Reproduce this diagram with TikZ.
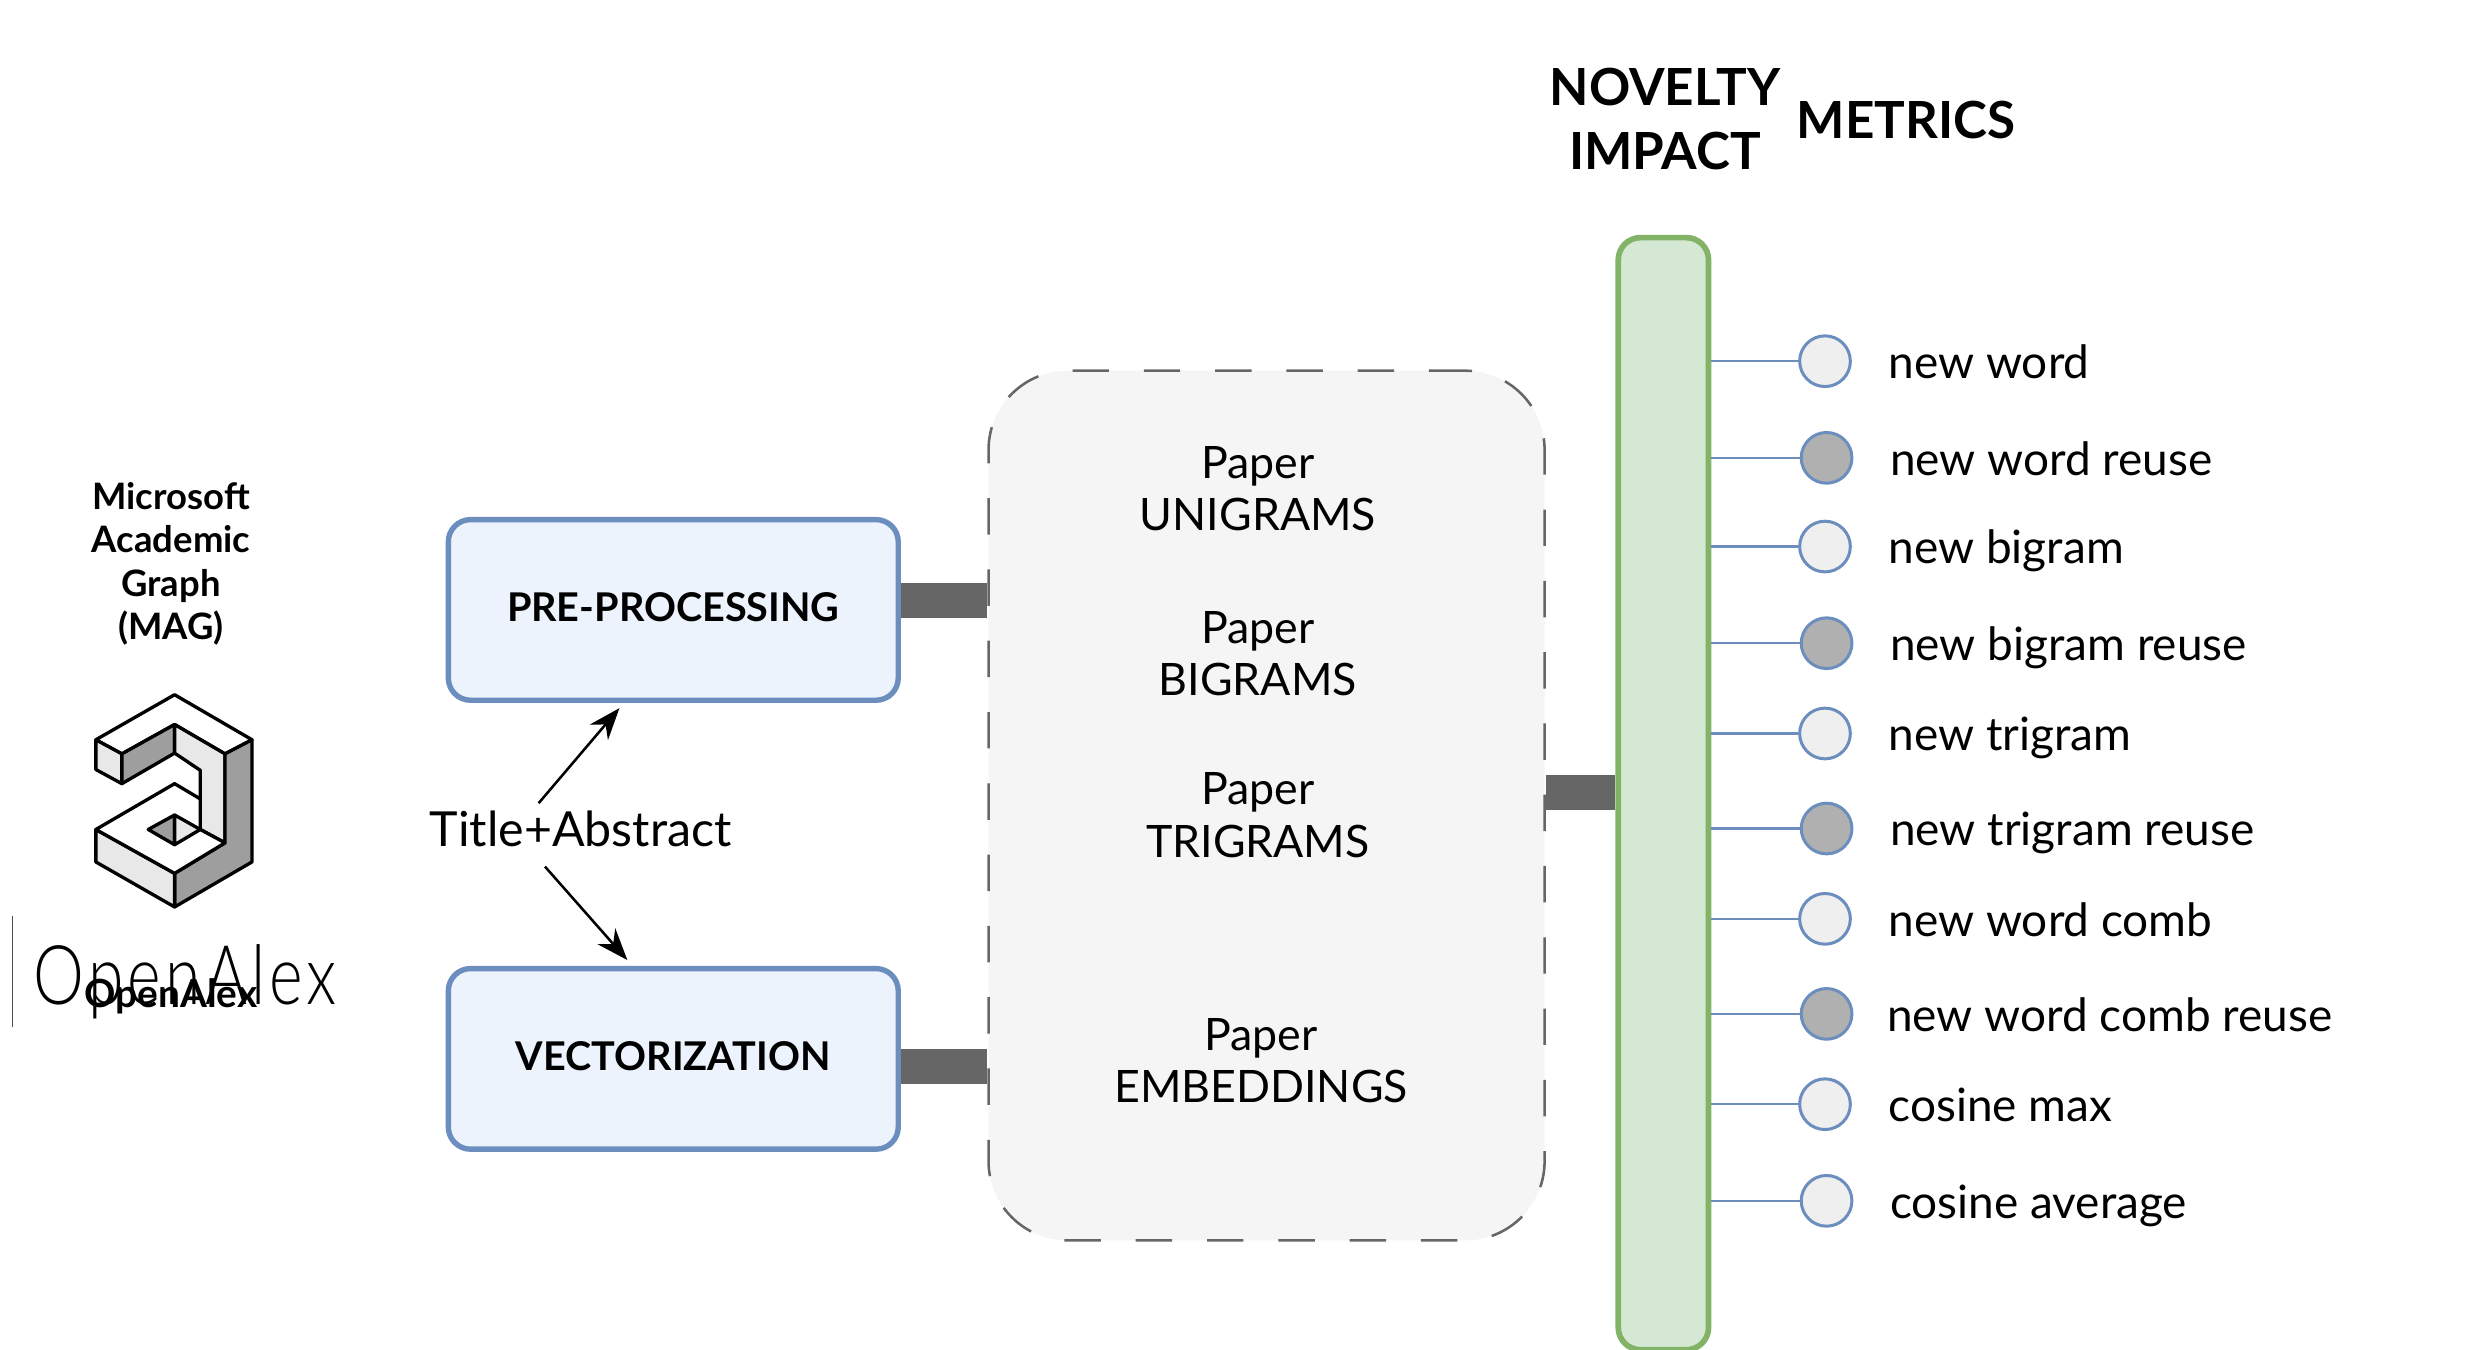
\documentclass[tikz,border=0pt]{standalone}
\usepackage{fontspec}
\setmainfont{Lato}
\newfontfamily\thinlogo[LetterSpace=6.5]{Lato Light}
\usetikzlibrary{positioning}
\usetikzlibrary{arrows.meta}

\definecolor{boxblue}{HTML}{6C8EBF}
\definecolor{boxfill}{HTML}{ECF3FD}
\definecolor{barfill}{HTML}{D5E8D4}
\definecolor{barline}{HTML}{82B366}
\definecolor{linkgray}{HTML}{666666}
\definecolor{papfill}{HTML}{F5F5F5}
\definecolor{faceL}{HTML}{E8E8E8}
\definecolor{faceD}{HTML}{9E9E9E}

\tikzset{
	stagebox/.style={draw=boxblue, fill=boxfill, line width=3.4pt, rounded corners=14pt, minimum width=284pt, minimum height=114pt, text depth=4pt, font=\fontsize{25}{30}\selectfont\bfseries},
	thicklink/.style={draw=linkgray, line width=22pt},
	papertxt/.style={align=center, font=\fontsize{28.2}{33}\selectfont},
	headtxt/.style={align=center, font=\fontsize{32.3}{40}\selectfont\bfseries},
	magtxt/.style={align=center, font=\fontsize{23}{27.5}\selectfont\bfseries},
	newdot/.style={circle, draw=boxblue, fill=faceL!70!white, line width=1.9pt, minimum size=32pt, inner sep=0pt},
	reusedot/.style={circle, draw=boxblue, fill=black!31, line width=1.9pt, minimum size=32pt, inner sep=0pt},
	metrictxt/.style={inner sep=0pt, text height=26pt, text depth=4pt, font=\fontsize{29}{33}\selectfont},
	barlink/.style={draw=boxblue, line width=1.6pt},
	feed/.style={-{Stealth[length=20pt,width=15pt]}, line width=1.6pt},
	face/.style={draw=black, line width=2.1pt, line join=round},
}

\begin{document}
\begin{tikzpicture}[x=1pt,y=-1pt]
	\useasboundingbox (0,0) rectangle (1568,852);

	% data source
	\node[magtxt] (mag) at (108,356) {Microsoft\\Academic\\Graph\\(MAG)};
	\begin{scope}[shift={(0.6,283.8)},x=0.208pt,y=-0.241pt]
		\draw[face,fill=white] (288,760) -- (527,642) -- (762,760) -- (680,797) -- (527,720) -- (367,797) -- cycle;
		\draw[face,fill=faceL] (288,760) -- (367,797) -- (367,875) -- (288,838) -- cycle;
		\draw[face,fill=faceD] (367,797) -- (527,720) -- (527,795) -- (367,875) -- cycle;
		\draw[face,fill=faceL] (527,720) -- (680,797) -- (680,1030) -- (605,995) -- (605,840) -- (527,795) -- cycle;
		\draw[face,fill=faceD] (680,797) -- (762,760) -- (762,1080) -- (527,1198) -- (527,1110) -- (680,1030) -- cycle;
		\draw[face,fill=faceL] (288,995) -- (527,1110) -- (527,1198) -- (288,1080) -- cycle;
		\draw[face,fill=white] (288,995) -- (527,875) -- (605,915) -- (605,995) -- (680,1030) -- (527,1110) -- cycle;
		\draw[face,fill=faceD] (447,995) -- (527,957) -- (527,1035) -- cycle;
		\draw[face,fill=faceL] (527,957) -- (605,995) -- (527,1035) -- cycle;
	\end{scope}
	\draw[draw=black!70, line width=0.8pt] (8,578) -- (8,648);
	\node[font=\fontsize{52}{55}\selectfont\thinlogo, inner sep=0pt, transform shape, xscale=0.78] (logotxt) at (117,620) {OpenAlex};
	\node[font=\fontsize{24.5}{26}\selectfont\bfseries, inner sep=0pt] (oatxt) at (108,629) {OpenAlex};

	% processing steps
	\node[stagebox] (pre) at (425,385) {PRE-PROCESSING};
	\node[stagebox, below=170pt of pre, yshift=4pt] (vec) {VECTORIZATION};
	\node[font=\fontsize{30.5}{35}\selectfont] (input) at (366.5,523.5) {Title+Abstract};

	\draw[feed] (340,507) -- (391,447);
	\draw[feed] (344,547) -- (396,606);

	% paper features
	\node[draw=linkgray, fill=papfill, line width=1.6pt, dash pattern=on 23pt off 22pt, rounded corners=50pt, minimum width=351pt, minimum height=549pt] (papers) at (799.5,508.5) {};
	\node[papertxt] (uni) at (794,308.5) {Paper\\UNIGRAMS};
	\node[papertxt] (bi) at (794,412.5) {Paper\\BIGRAMS};
	\node[papertxt] (tri) at (794,514.5) {Paper\\TRIGRAMS};
	\node[papertxt] (emb) at (796,669.5) {Paper\\EMBEDDINGS};

	% metrics bar
	\node[draw=barline, fill=barfill, line width=3.6pt, rounded corners=14pt, minimum width=57pt, minimum height=702pt] (bar) at (1050,501) {};
	\node[headtxt] (headl) at (1051,75) {NOVELTY\\IMPACT};
	\node[headtxt, anchor=west, inner sep=0pt] (headr) at (1134,76) {METRICS};

	\draw[thicklink] ([yshift=6pt]pre.east) -- ([yshift=6pt]pre.east -| papers.west);
	\draw[thicklink] ([yshift=-5pt]vec.east) -- ([yshift=-5pt]vec.east -| papers.west);
	\draw[thicklink] ([yshift=8.5pt]papers.east) -- ([yshift=8.5pt]papers.east -| bar.west);

	\node[newdot] (m1) at (1152,228) {};
	\node[reusedot] (m2) at (1153,289) {};
	\node[newdot] (m3) at (1152,345) {};
	\node[reusedot] (m4) at (1153,406) {};
	\node[newdot] (m5) at (1152,463) {};
	\node[reusedot] (m6) at (1153,523) {};
	\node[newdot] (m7) at (1152,580) {};
	\node[reusedot] (m8) at (1153,640) {};
	\node[newdot] (m9) at (1152,697) {};
	\node[newdot] (m10) at (1153,758) {};

	\draw[barlink] (m1 -| bar.east) -- (m1);
	\draw[barlink] (m2 -| bar.east) -- (m2);
	\draw[barlink] (m3 -| bar.east) -- (m3);
	\draw[barlink] (m4 -| bar.east) -- (m4);
	\draw[barlink] (m5 -| bar.east) -- (m5);
	\draw[barlink] (m6 -| bar.east) -- (m6);
	\draw[barlink] (m7 -| bar.east) -- (m7);
	\draw[barlink] (m8 -| bar.east) -- (m8);
	\draw[barlink] (m9 -| bar.east) -- (m9);
	\draw[barlink] (m10 -| bar.east) -- (m10);

	\node[metrictxt, right=23pt of m1] (l1) {new word};
	\node[metrictxt, right=23pt of m2] (l2) {new word reuse};
	\node[metrictxt, right=23pt of m3] (l3) {new bigram};
	\node[metrictxt, right=23pt of m4] (l4) {new bigram reuse};
	\node[metrictxt, right=23pt of m5] (l5) {new trigram};
	\node[metrictxt, right=23pt of m6] (l6) {new trigram reuse};
	\node[metrictxt, right=23pt of m7] (l7) {new word comb};
	\node[metrictxt, right=21pt of m8] (l8) {new word comb reuse};
	\node[metrictxt, right=23pt of m9] (l9) {cosine max};
	\node[metrictxt, right=23pt of m10] (l10) {cosine average};
\end{tikzpicture}
\end{document}
